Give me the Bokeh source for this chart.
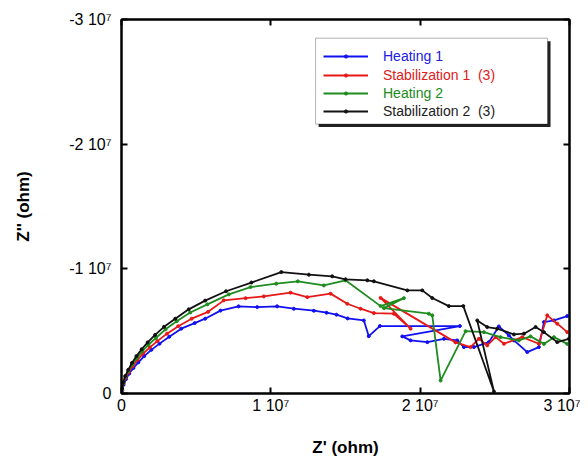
from bokeh.plotting import figure
from bokeh.models import (Range1d, FixedTicker, LinearAxis, Legend, LegendItem,
                          BoxAnnotation, CustomJSTickFormatter)
from bokeh.embed import file_html
from bokeh.resources import INLINE

SCALE = 1e7  # values below are in units of 10^7 ohm

# Heating 1 : Z' and -Z''
h1_x = [0, 0.005, 0.014, 0.03, 0.052, 0.08, 0.113, 0.152, 0.2, 0.255, 0.32, 0.40, 0.49, 0.56,
        0.663, 0.784, 0.909, 1.042, 1.154, 1.288, 1.373, 1.440, 1.514, 1.623, 1.656, 1.730,
        2.266, 1.880, 1.936, 2.048, 2.159, 2.248, 2.293, 2.360, 2.460, 2.527, 2.594, 2.628,
        2.717, 2.795, 2.829, 2.896, 2.985]
h1_y = [0, 0.025, 0.07, 0.115, 0.16, 0.205, 0.25, 0.30, 0.35, 0.40, 0.455, 0.52, 0.565, 0.60,
        0.665, 0.699, 0.693, 0.699, 0.680, 0.664, 0.648, 0.632, 0.602, 0.586, 0.460, 0.541,
        0.541, 0.458, 0.426, 0.412, 0.439, 0.426, 0.372, 0.372, 0.412, 0.538, 0.466, 0.426,
        0.332, 0.372, 0.573, 0.586, 0.621]

# Stabilization 1 (3)
s1_x = [0, 0.004, 0.013, 0.027, 0.048, 0.075, 0.107, 0.145, 0.19, 0.24, 0.305, 0.38, 0.47,
        0.58, 0.685, 0.831, 0.953, 1.132, 1.244, 1.400, 1.512, 1.601, 1.690, 1.824, 1.936,
        1.735, 2.237, 2.337, 2.393, 2.449, 2.505, 2.561, 2.684, 2.795, 2.851, 2.918, 2.985]
s1_y = [0, 0.03, 0.08, 0.125, 0.17, 0.22, 0.27, 0.32, 0.37, 0.42, 0.48, 0.54, 0.60,
        0.655, 0.747, 0.765, 0.779, 0.809, 0.773, 0.801, 0.720, 0.680, 0.645, 0.640, 0.520,
        0.767, 0.410, 0.372, 0.439, 0.386, 0.452, 0.399, 0.452, 0.399, 0.627, 0.560, 0.492]

# Heating 2
h2_x = [0, 0.004, 0.012, 0.026, 0.046, 0.072, 0.103, 0.14, 0.18, 0.23, 0.295, 0.37, 0.46,
        0.575, 0.719, 0.864, 1.036, 1.181, 1.355, 1.500, 1.735, 1.891, 1.757, 2.058, 2.081,
        2.137, 2.304, 2.427, 2.538, 2.661, 2.739, 2.829, 2.896, 2.985]
h2_y = [0, 0.035, 0.085, 0.135, 0.18, 0.235, 0.285, 0.34, 0.39, 0.445, 0.515, 0.58, 0.65,
        0.715, 0.795, 0.854, 0.881, 0.900, 0.867, 0.908, 0.701, 0.765, 0.685, 0.640, 0.627,
        0.104, 0.500, 0.492, 0.452, 0.426, 0.458, 0.398, 0.452, 0.398]

# Stabilization 2 (3)
s2_x = [0, 0.004, 0.012, 0.025, 0.045, 0.07, 0.1, 0.135, 0.175, 0.225, 0.285, 0.36, 0.45,
        0.56, 0.70, 0.87, 1.070, 1.255, 1.411, 1.500, 1.646, 1.690, 1.914, 2.014, 2.081,
        2.192, 2.289, 2.494, 2.382, 2.449, 2.516, 2.628, 2.695, 2.773, 2.829, 2.918, 2.996]
s2_y = [0, 0.04, 0.09, 0.14, 0.19, 0.245, 0.30, 0.355, 0.41, 0.47, 0.535, 0.60, 0.675,
        0.745, 0.82, 0.89, 0.974, 0.953, 0.940, 0.916, 0.908, 0.900, 0.827, 0.827, 0.766,
        0.701, 0.701, 0.016, 0.586, 0.533, 0.520, 0.474, 0.480, 0.533, 0.492, 0.412, 0.439]

series_names = ["Heating 1", "Stabilization 1  (3)", "Heating 2", "Stabilization 2  (3)"]
series_colors = ["#1010f0", "#e81818", "#1e8c1e", "#111111"]
series_text_colors = ["#2020e0", "#e02020", "#208a20", "#222222"]
series_data = [(h1_x, h1_y), (s1_x, s1_y), (h2_x, h2_y), (s2_x, s2_y)]

x_ticks = [0, 1, 2, 3]
x_tick_labels = ["0", "1 10\u2077", "2 10\u2077", "3 10\u2077"]
y_ticks = [0, -1, -2, -3]
y_tick_labels = ["0", "-1 10\u2077", "-2 10\u2077", "-3 10\u2077"]

FONT = "Liberation Sans"

p = figure(width=580, height=460, output_backend="svg", toolbar_location=None,
           x_range=Range1d(0, 3 * SCALE), y_range=Range1d(0, -3 * SCALE),
           min_border_left=121, min_border_right=11, min_border_top=19, min_border_bottom=67)
p.background_fill_color = "white"
p.border_fill_color = "white"
p.grid.visible = False
p.outline_line_color = "black"
p.outline_line_width = 2

renderers = []
for (xs, ys), c in zip(series_data, series_colors):
    X = [v * SCALE for v in xs]
    Y = [-v * SCALE for v in ys]
    ln = p.line(X, Y, line_color=c, line_width=1.8)
    sc = p.scatter(X, Y, size=3, fill_color=c, line_color=c)
    renderers.append([ln, sc])

xt = FixedTicker(ticks=[t * SCALE for t in x_ticks])
yt = FixedTicker(ticks=[t * SCALE for t in y_ticks])
x_over = {int(t * SCALE): lab for t, lab in zip(x_ticks, x_tick_labels)}
y_over = {int(t * SCALE): lab for t, lab in zip(y_ticks, y_tick_labels)}

def style_axis(ax, ticker):
    ax.ticker = ticker
    ax.minor_tick_line_color = None
    ax.major_tick_in = 6
    ax.major_tick_out = 0
    ax.major_tick_line_width = 2
    ax.axis_line_width = 2
    ax.axis_line_color = "black"
    ax.major_label_text_font = FONT
    ax.major_label_text_font_size = "16px"
    ax.major_label_text_color = "black"
    ax.axis_label_text_font = FONT
    ax.axis_label_text_font_style = "bold"
    ax.axis_label_text_font_size = "17px"
    ax.axis_label_text_color = "black"

xa = p.xaxis[0]
style_axis(xa, xt)
xa.major_label_overrides = x_over
xa.axis_label = "Z' (ohm)"
xa.major_label_standoff = 3
xa.axis_label_standoff = 21

ya = p.yaxis[0]
style_axis(ya, yt)
ya.major_label_overrides = y_over
ya.major_label_orientation = "horizontal"
ya.axis_label = "Z'' (ohm)"
ya.major_label_standoff = 10
ya.axis_label_standoff = 33

blank = CustomJSTickFormatter(code="return ''")
top_ax = LinearAxis(formatter=blank)
style_axis(top_ax, xt)
p.add_layout(top_ax, "above")
right_ax = LinearAxis(formatter=blank)
style_axis(right_ax, yt)
p.add_layout(right_ax, "right")

# legend frame with drop shadow
shadow = BoxAnnotation(left=1.32 * SCALE, right=2.873 * SCALE, top=-2.826 * SCALE,
                       bottom=-2.137 * SCALE, fill_color="#222222", fill_alpha=1.0,
                       line_color=None)
box = BoxAnnotation(left=1.30 * SCALE, right=2.853 * SCALE, top=-2.85 * SCALE,
                    bottom=-2.161 * SCALE, fill_color="white", fill_alpha=1.0,
                    line_color="black", line_width=1)
p.add_layout(shadow)
p.add_layout(box)

legend_y = [329, 310, 292, 274]
for name, rs, tc, ly in zip(series_names, renderers, series_text_colors, legend_y):
    lg = Legend(items=[LegendItem(label=name, renderers=rs)], location=(202, ly),
                border_line_color=None, background_fill_alpha=0.0,
                label_text_color=tc, label_text_font=FONT, label_text_font_size="14px",
                glyph_width=45, glyph_height=8, label_height=16, label_standoff=15,
                padding=0, margin=0, spacing=0)
    p.add_layout(lg)

open("out.html", "w").write(file_html(p, INLINE))
